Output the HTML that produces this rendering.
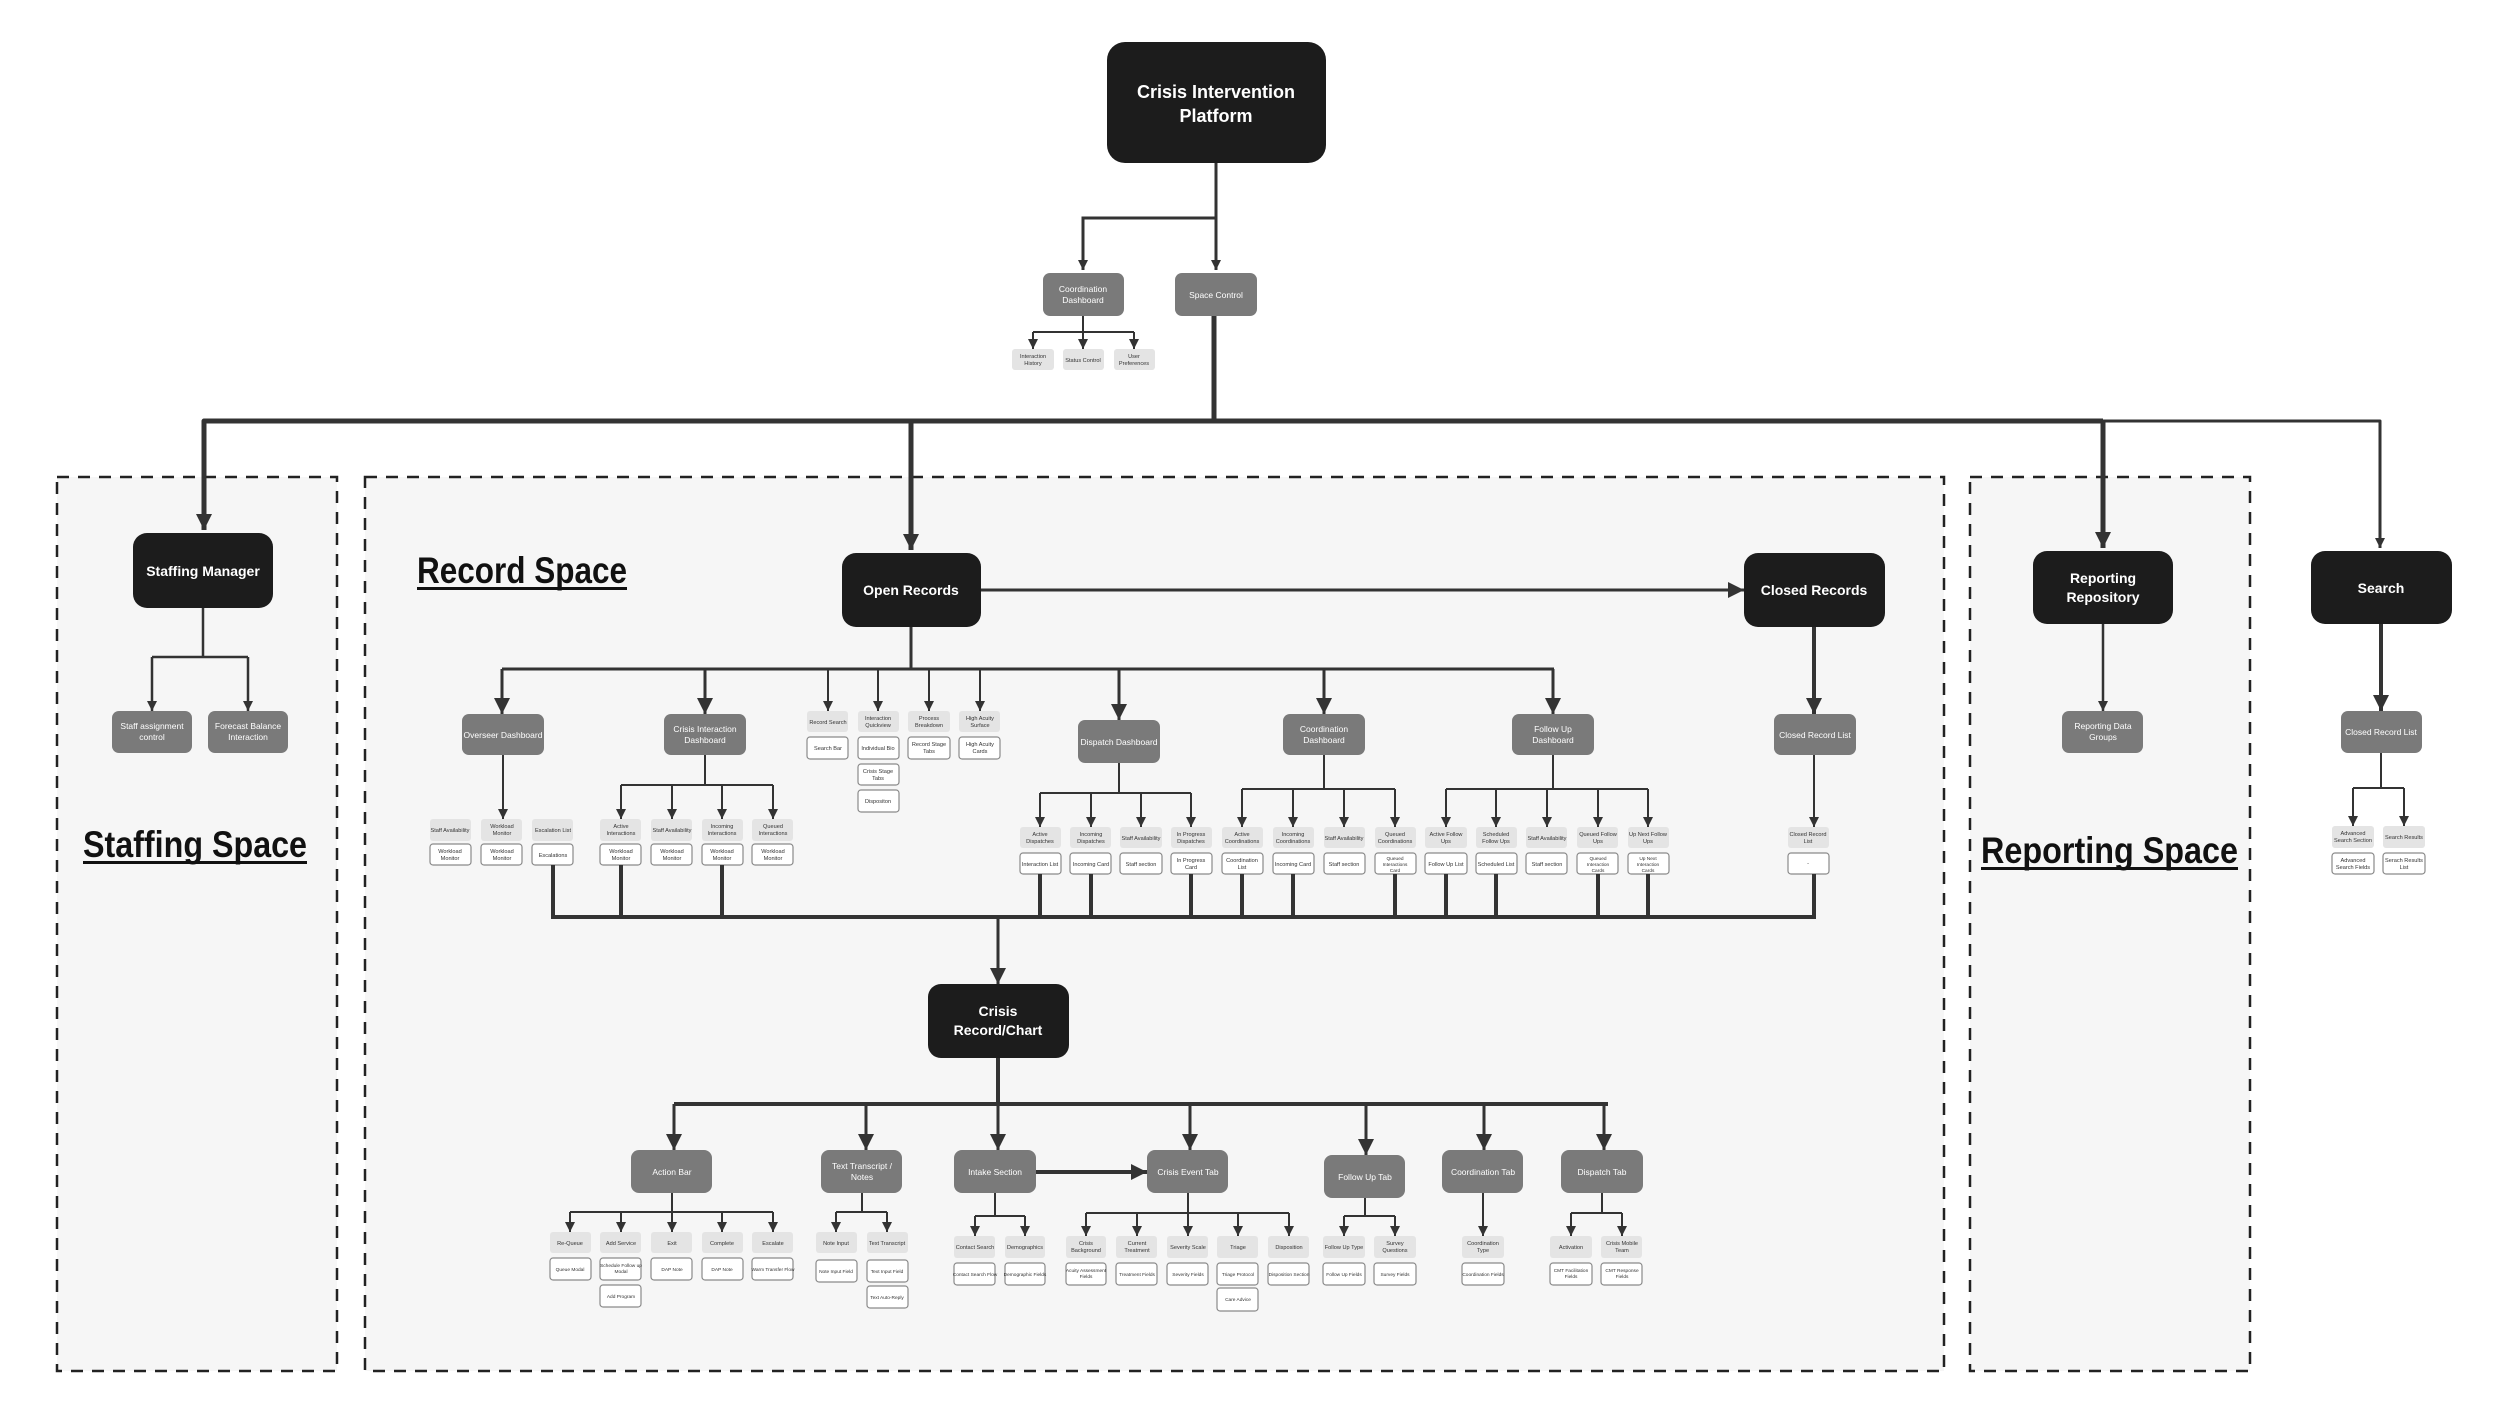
<!DOCTYPE html>
<html><head><meta charset="utf-8">
<style>
html,body{margin:0;padding:0;background:#fff;}
svg{display:block;}
text{font-family:"Liberation Sans",sans-serif;}
.dk{fill:#1c1c1c;}
.gr{fill:#7a7a7a;}
.lt{fill:#e4e4e4;}
.wh{fill:#fff;stroke:#8a8a8a;stroke-width:1.2;}
.ln{stroke:#333;fill:none;}
.t1{fill:#fff;font-weight:bold;text-anchor:middle;}
.t2{fill:#fff;font-size:8.5px;text-anchor:middle;}
.t3{fill:#333;font-size:5.6px;text-anchor:middle;}
.t4{fill:#333;font-size:4.8px;text-anchor:middle;}
.ttl{fill:#111;font-weight:bold;font-size:37px;}
</style></head>
<body>
<svg width="2500" height="1428" viewBox="0 0 2500 1428" xmlns="http://www.w3.org/2000/svg">
<defs>
<marker id="a" markerUnits="userSpaceOnUse" markerWidth="10" markerHeight="10" refX="10" refY="5" orient="auto"><path d="M0,0 L10,5 L0,10z" fill="#333"/></marker>
<marker id="b" markerUnits="userSpaceOnUse" markerWidth="16" markerHeight="16" refX="16" refY="8" orient="auto"><path d="M0,0 L16,8 L0,16z" fill="#333"/></marker>
</defs>

<!-- dashed spaces -->
<rect x="57" y="477" width="280" height="894" fill="#f6f6f6" stroke="#222" stroke-width="2.5" stroke-dasharray="12 9"/>
<rect x="365" y="477" width="1579" height="894" fill="#f6f6f6" stroke="#222" stroke-width="2.5" stroke-dasharray="12 9"/>
<rect x="1970" y="477" width="280" height="894" fill="#f6f6f6" stroke="#222" stroke-width="2.5" stroke-dasharray="12 9"/>

<!-- titles -->
<text class="ttl" x="83" y="857" textLength="224" lengthAdjust="spacingAndGlyphs">Staffing Space</text>
<rect x="83" y="861" width="224" height="3" fill="#111"/>
<text class="ttl" x="417" y="583" textLength="210" lengthAdjust="spacingAndGlyphs">Record Space</text>
<rect x="417" y="587" width="210" height="3" fill="#111"/>
<text class="ttl" x="1981" y="863" textLength="257" lengthAdjust="spacingAndGlyphs">Reporting Space</text>
<rect x="1981" y="867" width="257" height="3" fill="#111"/>

<!-- top -->
<rect class="dk" x="1107" y="42" width="219" height="121" rx="18"/>
<text class="t1" x="1216" y="98" font-size="18">Crisis Intervention</text>
<text class="t1" x="1216" y="122" font-size="18">Platform</text>
<path class="ln" stroke-width="3" d="M1216,163 V218 H1083 V270" marker-end="url(#a)"/>
<path class="ln" stroke-width="3" d="M1216,218 V270" marker-end="url(#a)"/>

<rect class="gr" x="1043" y="273" width="81" height="43" rx="7"/>
<text class="t2" x="1083" y="292">Coordination</text><text class="t2" x="1083" y="303">Dashboard</text>
<rect class="gr" x="1175" y="273" width="82" height="43" rx="7"/>
<text class="t2" x="1216" y="298">Space Control</text>

<path class="ln" stroke-width="2" d="M1083,316 V332 M1033,332 H1134"/>
<path class="ln" stroke-width="2" d="M1033,332 V349" marker-end="url(#a)"/>
<path class="ln" stroke-width="2" d="M1083,332 V349" marker-end="url(#a)"/>
<path class="ln" stroke-width="2" d="M1134,332 V349" marker-end="url(#a)"/>
<rect class="lt" x="1012" y="349" width="42" height="21" rx="3"/><text class="t3" x="1033" y="358">Interaction</text><text class="t3" x="1033" y="365">History</text>
<rect class="lt" x="1063" y="349" width="41" height="21" rx="3"/><text class="t3" x="1083" y="362">Status Control</text>
<rect class="lt" x="1114" y="349" width="41" height="21" rx="3"/><text class="t3" x="1134" y="358">User</text><text class="t3" x="1134" y="365">Preferences</text>

<!-- main distribution -->
<path class="ln" stroke-width="5" d="M1214,316 V421"/>
<path class="ln" stroke-width="5" d="M2103,421 H204 V530" marker-end="url(#b)" stroke-linejoin="round"/>
<path class="ln" stroke-width="5" d="M911,421 V550" marker-end="url(#b)"/>
<path class="ln" stroke-width="5" d="M2103,421 V548" marker-end="url(#b)"/>
<path class="ln" stroke-width="3" d="M2100,421 H2380 V548" marker-end="url(#a)" stroke-linejoin="round"/>

<!-- staffing -->
<rect class="dk" x="133" y="533" width="140" height="75" rx="14"/>
<text class="t1" x="203" y="576" font-size="14">Staffing Manager</text>
<path class="ln" stroke-width="2.5" d="M203,608 V657 M152,657 H248"/>
<path class="ln" stroke-width="2.5" d="M152,657 V711" marker-end="url(#a)"/>
<path class="ln" stroke-width="2.5" d="M248,657 V711" marker-end="url(#a)"/>
<rect class="gr" x="112" y="711" width="80" height="42" rx="7"/>
<text class="t2" x="152" y="729">Staff assignment</text><text class="t2" x="152" y="740">control</text>
<rect class="gr" x="208" y="711" width="80" height="42" rx="7"/>
<text class="t2" x="248" y="729">Forecast Balance</text><text class="t2" x="248" y="740">Interaction</text>

<!-- reporting / search -->
<rect class="dk" x="2033" y="551" width="140" height="73" rx="14"/>
<text class="t1" x="2103" y="583" font-size="14">Reporting</text><text class="t1" x="2103" y="602" font-size="14">Repository</text>
<rect class="dk" x="2311" y="551" width="141" height="73" rx="14"/>
<text class="t1" x="2381" y="593" font-size="14">Search</text>
<path class="ln" stroke-width="2.5" d="M2103,624 V711" marker-end="url(#a)"/>
<rect class="gr" x="2062" y="711" width="81" height="42" rx="7"/>
<text class="t2" x="2103" y="729">Reporting Data</text><text class="t2" x="2103" y="740">Groups</text>
<path class="ln" stroke-width="4" d="M2381,624 V711" marker-end="url(#b)"/>
<rect class="gr" x="2341" y="711" width="81" height="42" rx="7"/>
<text class="t2" x="2381" y="735">Closed Record List</text>
<path class="ln" stroke-width="2" d="M2381,753 V788 M2353,788 H2404"/>
<path class="ln" stroke-width="2" d="M2353,788 V826" marker-end="url(#a)"/>
<path class="ln" stroke-width="2" d="M2404,788 V826" marker-end="url(#a)"/>
<rect class="lt" x="2332" y="826" width="42" height="22" rx="3"/><text class="t3" x="2353" y="835">Advanced</text><text class="t3" x="2353" y="842">Search Section</text>
<rect class="wh" x="2332" y="853" width="42" height="21" rx="3"/><text class="t3" x="2353" y="862">Advanced</text><text class="t3" x="2353" y="869">Search Fields</text>
<rect class="lt" x="2383" y="826" width="42" height="22" rx="3"/><text class="t3" x="2404" y="839">Search Results</text>
<rect class="wh" x="2383" y="853" width="42" height="21" rx="3"/><text class="t3" x="2404" y="862">Serach Results</text><text class="t3" x="2404" y="869">List</text>

<!-- open / closed records -->
<rect class="dk" x="842" y="553" width="139" height="74" rx="14"/>
<text class="t1" x="911" y="595" font-size="14">Open Records</text>
<rect class="dk" x="1744" y="553" width="141" height="74" rx="14"/>
<text class="t1" x="1814" y="595" font-size="14">Closed Records</text>
<path class="ln" stroke-width="3" d="M981,590 H1744" marker-end="url(#b)"/>

<path class="ln" stroke-width="4" d="M1814,627 V714" marker-end="url(#b)"/>
<rect class="gr" x="1774" y="714" width="82" height="41" rx="7"/>
<text class="t2" x="1815" y="738">Closed Record List</text>
<path class="ln" stroke-width="2" d="M1814,755 V827" marker-end="url(#a)"/>
<rect class="lt" x="1788" y="827" width="41" height="21" rx="3"/><text class="t3" x="1808" y="836">Closed Record</text><text class="t3" x="1808" y="843">List</text>
<rect class="wh" x="1788" y="853" width="41" height="21" rx="3"/><text class="t3" x="1808" y="865">-</text>

<!-- open records bracket -->
<path class="ln" stroke-width="3" d="M911,627 V669 M502,669 H1554"/>
<path class="ln" stroke-width="3" d="M502,669 V714" marker-end="url(#b)"/>
<path class="ln" stroke-width="3" d="M705,669 V714" marker-end="url(#b)"/>
<path class="ln" stroke-width="2" d="M828,669 V711" marker-end="url(#a)"/>
<path class="ln" stroke-width="2" d="M878,669 V711" marker-end="url(#a)"/>
<path class="ln" stroke-width="2" d="M929,669 V711" marker-end="url(#a)"/>
<path class="ln" stroke-width="2" d="M980,669 V711" marker-end="url(#a)"/>
<path class="ln" stroke-width="3" d="M1119,669 V720" marker-end="url(#b)"/>
<path class="ln" stroke-width="3" d="M1324,669 V714" marker-end="url(#b)"/>
<path class="ln" stroke-width="3" d="M1553,669 V714" marker-end="url(#b)"/>

<rect class="gr" x="462" y="714" width="82" height="41" rx="7"/><text class="t2" x="503" y="738">Overseer Dashboard</text>
<rect class="gr" x="664" y="714" width="82" height="41" rx="7"/><text class="t2" x="705" y="732">Crisis Interaction</text><text class="t2" x="705" y="743">Dashboard</text>
<rect class="gr" x="1078" y="720" width="82" height="43" rx="7"/><text class="t2" x="1119" y="745">Dispatch Dashboard</text>
<rect class="gr" x="1283" y="714" width="82" height="41" rx="7"/><text class="t2" x="1324" y="732">Coordination</text><text class="t2" x="1324" y="743">Dashboard</text>
<rect class="gr" x="1512" y="714" width="82" height="41" rx="7"/><text class="t2" x="1553" y="732">Follow Up</text><text class="t2" x="1553" y="743">Dashboard</text>

<!-- small columns -->
<rect class="lt" x="807" y="711" width="41" height="21" rx="3"/><text class="t3" x="828" y="724">Record Search</text>
<rect class="wh" x="807" y="737" width="41" height="22" rx="3"/><text class="t3" x="828" y="750">Search Bar</text>
<rect class="lt" x="858" y="711" width="41" height="21" rx="3"/><text class="t3" x="878" y="720">Interaction</text><text class="t3" x="878" y="727">Quickview</text>
<rect class="wh" x="858" y="737" width="41" height="22" rx="3"/><text class="t3" x="878" y="750">Individual Bio</text>
<rect class="wh" x="858" y="764" width="41" height="21" rx="3"/><text class="t3" x="878" y="773">Crisis Stage</text><text class="t3" x="878" y="780">Tabs</text>
<rect class="wh" x="858" y="790" width="41" height="22" rx="3"/><text class="t3" x="878" y="803">Dispositon</text>
<rect class="lt" x="908" y="711" width="42" height="21" rx="3"/><text class="t3" x="929" y="720">Process</text><text class="t3" x="929" y="727">Breakdown</text>
<rect class="wh" x="908" y="737" width="42" height="22" rx="3"/><text class="t3" x="929" y="746">Record Stage</text><text class="t3" x="929" y="753">Tabs</text>
<rect class="lt" x="959" y="711" width="41" height="21" rx="3"/><text class="t3" x="980" y="720">High Acuity</text><text class="t3" x="980" y="727">Surface</text>
<rect class="wh" x="959" y="737" width="41" height="22" rx="3"/><text class="t3" x="980" y="746">High Acuity</text><text class="t3" x="980" y="753">Cards</text>

<!-- overseer children -->
<path class="ln" stroke-width="2" d="M503,755 V819" marker-end="url(#a)"/>
<rect class="lt" x="430" y="819" width="41" height="22" rx="3"/><text class="t3" x="450" y="832">Staff Availability</text>
<rect class="wh" x="430" y="844" width="41" height="21" rx="3"/><text class="t3" x="450" y="853">Workload</text><text class="t3" x="450" y="860">Monitor</text>
<rect class="lt" x="481" y="819" width="41" height="22" rx="3"/><text class="t3" x="502" y="828">Workload</text><text class="t3" x="502" y="835">Monitor</text>
<rect class="wh" x="481" y="844" width="41" height="21" rx="3"/><text class="t3" x="502" y="853">Workload</text><text class="t3" x="502" y="860">Monitor</text>
<rect class="lt" x="532" y="819" width="41" height="22" rx="3"/><text class="t3" x="553" y="832">Escalation List</text>
<rect class="wh" x="532" y="844" width="41" height="21" rx="3"/><text class="t3" x="553" y="857">Escalations</text>

<!-- crisis interaction children -->
<path class="ln" stroke-width="2" d="M705,755 V785 M621,785 H773"/>
<path class="ln" stroke-width="2" d="M621,785 V819" marker-end="url(#a)"/>
<path class="ln" stroke-width="2" d="M672,785 V819" marker-end="url(#a)"/>
<path class="ln" stroke-width="2" d="M722,785 V819" marker-end="url(#a)"/>
<path class="ln" stroke-width="2" d="M773,785 V819" marker-end="url(#a)"/>
<rect class="lt" x="600" y="819" width="41" height="22" rx="3"/><text class="t3" x="621" y="828">Active</text><text class="t3" x="621" y="835">Interactions</text>
<rect class="wh" x="600" y="844" width="41" height="21" rx="3"/><text class="t3" x="621" y="853">Workload</text><text class="t3" x="621" y="860">Monitor</text>
<rect class="lt" x="651" y="819" width="41" height="22" rx="3"/><text class="t3" x="672" y="832">Staff Availability</text>
<rect class="wh" x="651" y="844" width="41" height="21" rx="3"/><text class="t3" x="672" y="853">Workload</text><text class="t3" x="672" y="860">Monitor</text>
<rect class="lt" x="702" y="819" width="41" height="22" rx="3"/><text class="t3" x="722" y="828">Incoming</text><text class="t3" x="722" y="835">Interactions</text>
<rect class="wh" x="702" y="844" width="41" height="21" rx="3"/><text class="t3" x="722" y="853">Workload</text><text class="t3" x="722" y="860">Monitor</text>
<rect class="lt" x="752" y="819" width="41" height="22" rx="3"/><text class="t3" x="773" y="828">Queued</text><text class="t3" x="773" y="835">Interactions</text>
<rect class="wh" x="752" y="844" width="41" height="21" rx="3"/><text class="t3" x="773" y="853">Workload</text><text class="t3" x="773" y="860">Monitor</text>

<!-- dispatch children -->
<path class="ln" stroke-width="2" d="M1119,763 V793 M1040,793 H1191"/>
<path class="ln" stroke-width="2" d="M1040,793 V827" marker-end="url(#a)"/>
<path class="ln" stroke-width="2" d="M1091,793 V827" marker-end="url(#a)"/>
<path class="ln" stroke-width="2" d="M1141,793 V827" marker-end="url(#a)"/>
<path class="ln" stroke-width="2" d="M1191,793 V827" marker-end="url(#a)"/>
<rect class="lt" x="1020" y="827" width="41" height="21" rx="3"/><text class="t3" x="1040" y="836">Active</text><text class="t3" x="1040" y="843">Dispatches</text>
<rect class="wh" x="1020" y="853" width="41" height="21" rx="3"/><text class="t3" x="1040" y="866">Interaction List</text>
<rect class="lt" x="1070" y="827" width="41" height="21" rx="3"/><text class="t3" x="1091" y="836">Incoming</text><text class="t3" x="1091" y="843">Dispatches</text>
<rect class="wh" x="1070" y="853" width="41" height="21" rx="3"/><text class="t3" x="1091" y="866">Incoming Card</text>
<rect class="lt" x="1120" y="827" width="42" height="21" rx="3"/><text class="t3" x="1141" y="840">Staff Availability</text>
<rect class="wh" x="1120" y="853" width="42" height="21" rx="3"/><text class="t3" x="1141" y="866">Staff section</text>
<rect class="lt" x="1171" y="827" width="41" height="21" rx="3"/><text class="t3" x="1191" y="836">In Progress</text><text class="t3" x="1191" y="843">Dispatches</text>
<rect class="wh" x="1171" y="853" width="41" height="21" rx="3"/><text class="t3" x="1191" y="862">In Progress</text><text class="t3" x="1191" y="869">Card</text>

<!-- coordination children -->
<path class="ln" stroke-width="2" d="M1324,755 V789 M1242,789 H1395"/>
<path class="ln" stroke-width="2" d="M1242,789 V827" marker-end="url(#a)"/>
<path class="ln" stroke-width="2" d="M1293,789 V827" marker-end="url(#a)"/>
<path class="ln" stroke-width="2" d="M1344,789 V827" marker-end="url(#a)"/>
<path class="ln" stroke-width="2" d="M1395,789 V827" marker-end="url(#a)"/>
<rect class="lt" x="1222" y="827" width="41" height="21" rx="3"/><text class="t3" x="1242" y="836">Active</text><text class="t3" x="1242" y="843">Coordinations</text>
<rect class="wh" x="1222" y="853" width="41" height="21" rx="3"/><text class="t3" x="1242" y="862">Coordination</text><text class="t3" x="1242" y="869">List</text>
<rect class="lt" x="1273" y="827" width="41" height="21" rx="3"/><text class="t3" x="1293" y="836">Incoming</text><text class="t3" x="1293" y="843">Coordinations</text>
<rect class="wh" x="1273" y="853" width="41" height="21" rx="3"/><text class="t3" x="1293" y="866">Incoming Card</text>
<rect class="lt" x="1324" y="827" width="41" height="21" rx="3"/><text class="t3" x="1344" y="840">Staff Availability</text>
<rect class="wh" x="1324" y="853" width="41" height="21" rx="3"/><text class="t3" x="1344" y="866">Staff section</text>
<rect class="lt" x="1375" y="827" width="41" height="21" rx="3"/><text class="t3" x="1395" y="836">Queued</text><text class="t3" x="1395" y="843">Coordinations</text>
<rect class="wh" x="1375" y="853" width="41" height="21" rx="3"/><text class="t4" x="1395" y="860">Queued</text><text class="t4" x="1395" y="866">Interactions</text><text class="t4" x="1395" y="872">Card</text>

<!-- follow up children -->
<path class="ln" stroke-width="2" d="M1553,755 V789 M1446,789 H1648"/>
<path class="ln" stroke-width="2" d="M1446,789 V827" marker-end="url(#a)"/>
<path class="ln" stroke-width="2" d="M1496,789 V827" marker-end="url(#a)"/>
<path class="ln" stroke-width="2" d="M1547,789 V827" marker-end="url(#a)"/>
<path class="ln" stroke-width="2" d="M1598,789 V827" marker-end="url(#a)"/>
<path class="ln" stroke-width="2" d="M1648,789 V827" marker-end="url(#a)"/>
<rect class="lt" x="1425" y="827" width="42" height="21" rx="3"/><text class="t3" x="1446" y="836">Active Follow</text><text class="t3" x="1446" y="843">Ups</text>
<rect class="wh" x="1425" y="853" width="42" height="21" rx="3"/><text class="t3" x="1446" y="866">Follow Up List</text>
<rect class="lt" x="1476" y="827" width="41" height="21" rx="3"/><text class="t3" x="1496" y="836">Scheduled</text><text class="t3" x="1496" y="843">Follow Ups</text>
<rect class="wh" x="1476" y="853" width="41" height="21" rx="3"/><text class="t3" x="1496" y="866">Scheduled List</text>
<rect class="lt" x="1526" y="827" width="41" height="21" rx="3"/><text class="t3" x="1547" y="840">Staff Availability</text>
<rect class="wh" x="1526" y="853" width="41" height="21" rx="3"/><text class="t3" x="1547" y="866">Staff section</text>
<rect class="lt" x="1577" y="827" width="41" height="21" rx="3"/><text class="t3" x="1598" y="836">Queued Follow</text><text class="t3" x="1598" y="843">Ups</text>
<rect class="wh" x="1577" y="853" width="41" height="21" rx="3"/><text class="t4" x="1598" y="860">Queued</text><text class="t4" x="1598" y="866">Interaction</text><text class="t4" x="1598" y="872">Cards</text>
<rect class="lt" x="1628" y="827" width="41" height="21" rx="3"/><text class="t3" x="1648" y="836">Up Next Follow</text><text class="t3" x="1648" y="843">Ups</text>
<rect class="wh" x="1628" y="853" width="41" height="21" rx="3"/><text class="t4" x="1648" y="860">Up Next</text><text class="t4" x="1648" y="866">Interaction</text><text class="t4" x="1648" y="872">Cards</text>

<!-- merge -->
<path class="ln" stroke-width="4" d="M553,865 V917 H1814 V874 M621,865 V917 M722,865 V917 M1040,874 V917 M1091,874 V917 M1191,874 V917 M1242,874 V917 M1293,874 V917 M1395,874 V917 M1446,874 V917 M1496,874 V917 M1598,874 V917 M1648,874 V917"/>
<path class="ln" stroke-width="3" d="M998,917 V984" marker-end="url(#b)"/>

<rect class="dk" x="928" y="984" width="141" height="74" rx="13"/>
<text class="t1" x="998" y="1016" font-size="14">Crisis</text><text class="t1" x="998" y="1035" font-size="14">Record/Chart</text>

<!-- lower bracket -->
<path class="ln" stroke-width="4" d="M998,1058 V1104 M674,1104 H1608"/>
<path class="ln" stroke-width="3" d="M674,1104 V1150" marker-end="url(#b)"/>
<path class="ln" stroke-width="3" d="M866,1104 V1150" marker-end="url(#b)"/>
<path class="ln" stroke-width="3" d="M998,1104 V1150" marker-end="url(#b)"/>
<path class="ln" stroke-width="3" d="M1190,1104 V1150" marker-end="url(#b)"/>
<path class="ln" stroke-width="3" d="M1366,1104 V1155" marker-end="url(#b)"/>
<path class="ln" stroke-width="3" d="M1484,1104 V1150" marker-end="url(#b)"/>
<path class="ln" stroke-width="3" d="M1604,1104 V1150" marker-end="url(#b)"/>

<rect class="gr" x="631" y="1150" width="81" height="43" rx="8"/><text class="t2" x="672" y="1175">Action Bar</text>
<rect class="gr" x="821" y="1150" width="81" height="43" rx="8"/><text class="t2" x="862" y="1169">Text Transcript /</text><text class="t2" x="862" y="1180">Notes</text>
<rect class="gr" x="954" y="1150" width="82" height="43" rx="8"/><text class="t2" x="995" y="1175">Intake Section</text>
<rect class="gr" x="1147" y="1150" width="81" height="43" rx="8"/><text class="t2" x="1188" y="1175">Crisis Event Tab</text>
<rect class="gr" x="1324" y="1155" width="81" height="43" rx="8"/><text class="t2" x="1365" y="1180">Follow Up Tab</text>
<rect class="gr" x="1442" y="1150" width="81" height="43" rx="8"/><text class="t2" x="1483" y="1175">Coordination Tab</text>
<rect class="gr" x="1561" y="1150" width="82" height="43" rx="8"/><text class="t2" x="1602" y="1175">Dispatch Tab</text>
<path class="ln" stroke-width="4" d="M1036,1172 H1147" marker-end="url(#b)"/>

<!-- action bar children -->
<path class="ln" stroke-width="2" d="M672,1193 V1212 M570,1212 H773"/>
<path class="ln" stroke-width="2" d="M570,1212 V1232" marker-end="url(#a)"/>
<path class="ln" stroke-width="2" d="M621,1212 V1232" marker-end="url(#a)"/>
<path class="ln" stroke-width="2" d="M672,1212 V1232" marker-end="url(#a)"/>
<path class="ln" stroke-width="2" d="M722,1212 V1232" marker-end="url(#a)"/>
<path class="ln" stroke-width="2" d="M773,1212 V1232" marker-end="url(#a)"/>
<rect class="lt" x="550" y="1232" width="41" height="21" rx="3"/><text class="t3" x="570" y="1245">Re-Queue</text>
<rect class="wh" x="550" y="1258" width="41" height="22" rx="3"/><text class="t4" x="570" y="1271">Queue Modal</text>
<rect class="lt" x="600" y="1232" width="41" height="21" rx="3"/><text class="t3" x="621" y="1245">Add Service</text>
<rect class="wh" x="600" y="1258" width="41" height="22" rx="3"/><text class="t4" x="621" y="1267">Schedule Follow up</text><text class="t4" x="621" y="1273">Modal</text>
<rect class="wh" x="600" y="1285" width="41" height="22" rx="3"/><text class="t4" x="621" y="1298">Add Program</text>
<rect class="lt" x="651" y="1232" width="41" height="21" rx="3"/><text class="t3" x="672" y="1245">Exit</text>
<rect class="wh" x="651" y="1258" width="41" height="22" rx="3"/><text class="t4" x="672" y="1271">DAP Note</text>
<rect class="lt" x="702" y="1232" width="41" height="21" rx="3"/><text class="t3" x="722" y="1245">Complete</text>
<rect class="wh" x="702" y="1258" width="41" height="22" rx="3"/><text class="t4" x="722" y="1271">DAP Note</text>
<rect class="lt" x="752" y="1232" width="41" height="21" rx="3"/><text class="t3" x="773" y="1245">Escalate</text>
<rect class="wh" x="752" y="1258" width="41" height="22" rx="3"/><text class="t4" x="773" y="1271">Warm Transfer Flow</text>

<!-- transcript children -->
<path class="ln" stroke-width="2" d="M862,1193 V1212 M836,1212 H887"/>
<path class="ln" stroke-width="2" d="M836,1212 V1232" marker-end="url(#a)"/>
<path class="ln" stroke-width="2" d="M887,1212 V1232" marker-end="url(#a)"/>
<rect class="lt" x="816" y="1232" width="41" height="21" rx="3"/><text class="t3" x="836" y="1245">Note Input</text>
<rect class="wh" x="816" y="1260" width="41" height="22" rx="3"/><text class="t4" x="836" y="1273">Note Input Field</text>
<rect class="lt" x="867" y="1232" width="41" height="21" rx="3"/><text class="t3" x="887" y="1245">Text Transcript</text>
<rect class="wh" x="867" y="1260" width="41" height="22" rx="3"/><text class="t4" x="887" y="1273">Text Input Field</text>
<rect class="wh" x="867" y="1286" width="41" height="22" rx="3"/><text class="t4" x="887" y="1299">Text Auto-Reply</text>

<!-- intake children -->
<path class="ln" stroke-width="2" d="M995,1193 V1216 M975,1216 H1025"/>
<path class="ln" stroke-width="2" d="M975,1216 V1236" marker-end="url(#a)"/>
<path class="ln" stroke-width="2" d="M1025,1216 V1236" marker-end="url(#a)"/>
<rect class="lt" x="954" y="1236" width="41" height="22" rx="3"/><text class="t3" x="975" y="1249">Contact Search</text>
<rect class="wh" x="954" y="1263" width="41" height="22" rx="3"/><text class="t4" x="975" y="1276">Contact Search Flow</text>
<rect class="lt" x="1005" y="1236" width="40" height="22" rx="3"/><text class="t3" x="1025" y="1249">Demographics</text>
<rect class="wh" x="1005" y="1263" width="40" height="22" rx="3"/><text class="t4" x="1025" y="1276">Demographic Fields</text>

<!-- crisis event children -->
<path class="ln" stroke-width="2" d="M1188,1193 V1213 M1086,1213 H1289"/>
<path class="ln" stroke-width="2" d="M1086,1213 V1236" marker-end="url(#a)"/>
<path class="ln" stroke-width="2" d="M1137,1213 V1236" marker-end="url(#a)"/>
<path class="ln" stroke-width="2" d="M1188,1213 V1236" marker-end="url(#a)"/>
<path class="ln" stroke-width="2" d="M1238,1213 V1236" marker-end="url(#a)"/>
<path class="ln" stroke-width="2" d="M1289,1213 V1236" marker-end="url(#a)"/>
<rect class="lt" x="1066" y="1236" width="40" height="22" rx="3"/><text class="t3" x="1086" y="1245">Crisis</text><text class="t3" x="1086" y="1252">Background</text>
<rect class="wh" x="1066" y="1263" width="40" height="22" rx="3"/><text class="t4" x="1086" y="1272">Acuity Assessment</text><text class="t4" x="1086" y="1278">Fields</text>
<rect class="lt" x="1116" y="1236" width="41" height="22" rx="3"/><text class="t3" x="1137" y="1245">Current</text><text class="t3" x="1137" y="1252">Treatment</text>
<rect class="wh" x="1116" y="1263" width="41" height="22" rx="3"/><text class="t4" x="1137" y="1276">Treatment Fields</text>
<rect class="lt" x="1167" y="1236" width="41" height="22" rx="3"/><text class="t3" x="1188" y="1249">Severity Scale</text>
<rect class="wh" x="1167" y="1263" width="41" height="22" rx="3"/><text class="t4" x="1188" y="1276">Severity Fields</text>
<rect class="lt" x="1217" y="1236" width="41" height="22" rx="3"/><text class="t3" x="1238" y="1249">Triage</text>
<rect class="wh" x="1217" y="1263" width="41" height="22" rx="3"/><text class="t4" x="1238" y="1276">Triage Protocol</text>
<rect class="wh" x="1217" y="1288" width="41" height="23" rx="3"/><text class="t4" x="1238" y="1301">Care Advice</text>
<rect class="lt" x="1268" y="1236" width="41" height="22" rx="3"/><text class="t3" x="1289" y="1249">Disposition</text>
<rect class="wh" x="1268" y="1263" width="41" height="22" rx="3"/><text class="t4" x="1289" y="1276">Disposition Section</text>

<!-- follow up tab children -->
<path class="ln" stroke-width="2" d="M1365,1198 V1216 M1344,1216 H1395"/>
<path class="ln" stroke-width="2" d="M1344,1216 V1236" marker-end="url(#a)"/>
<path class="ln" stroke-width="2" d="M1395,1216 V1236" marker-end="url(#a)"/>
<rect class="lt" x="1323" y="1236" width="42" height="22" rx="3"/><text class="t3" x="1344" y="1249">Follow Up Type</text>
<rect class="wh" x="1323" y="1263" width="42" height="22" rx="3"/><text class="t4" x="1344" y="1276">Follow Up Fields</text>
<rect class="lt" x="1374" y="1236" width="42" height="22" rx="3"/><text class="t3" x="1395" y="1245">Survey</text><text class="t3" x="1395" y="1252">Questions</text>
<rect class="wh" x="1374" y="1263" width="42" height="22" rx="3"/><text class="t4" x="1395" y="1276">Survey Fields</text>

<!-- coordination tab child -->
<path class="ln" stroke-width="2" d="M1483,1193 V1236" marker-end="url(#a)"/>
<rect class="lt" x="1462" y="1236" width="42" height="22" rx="3"/><text class="t3" x="1483" y="1245">Coordination</text><text class="t3" x="1483" y="1252">Type</text>
<rect class="wh" x="1462" y="1263" width="42" height="22" rx="3"/><text class="t4" x="1483" y="1276">Coordination Fields</text>

<!-- dispatch tab children -->
<path class="ln" stroke-width="2" d="M1602,1193 V1213 M1571,1213 H1622"/>
<path class="ln" stroke-width="2" d="M1571,1213 V1236" marker-end="url(#a)"/>
<path class="ln" stroke-width="2" d="M1622,1213 V1236" marker-end="url(#a)"/>
<rect class="lt" x="1550" y="1236" width="42" height="22" rx="3"/><text class="t3" x="1571" y="1249">Activation</text>
<rect class="wh" x="1550" y="1263" width="42" height="22" rx="3"/><text class="t4" x="1571" y="1272">CMT Facilitation</text><text class="t4" x="1571" y="1278">Fields</text>
<rect class="lt" x="1601" y="1236" width="41" height="22" rx="3"/><text class="t3" x="1622" y="1245">Crisis Mobile</text><text class="t3" x="1622" y="1252">Team</text>
<rect class="wh" x="1601" y="1263" width="41" height="22" rx="3"/><text class="t4" x="1622" y="1272">CMT Response</text><text class="t4" x="1622" y="1278">Fields</text>
</svg>
</body></html>
